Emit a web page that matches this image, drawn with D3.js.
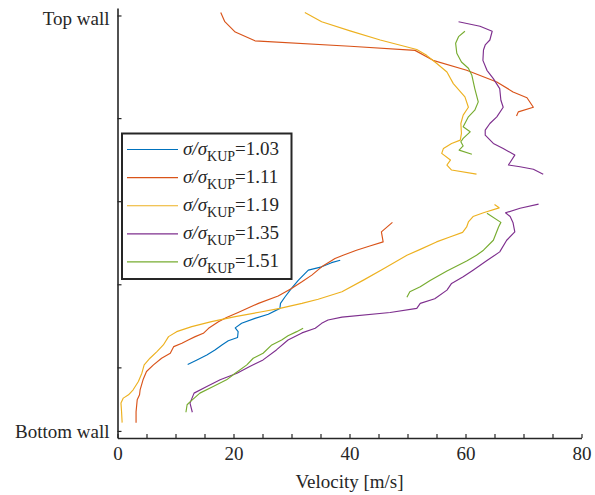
<!DOCTYPE html>
<html>
<head>
<meta charset="utf-8">
<script src="https://cdn.jsdelivr.net/npm/d3@7"></script>
<style>
  body { margin: 0; background: #fff; }
</style>
</head>
<body>
<div id="chart"></div>
<script>
// ratio labels and colours (MATLAB default order)
var ratios = ["1.03", "1.11", "1.19", "1.35", "1.51"];
var colors = ["#0072BD", "#D95319", "#EDB120", "#7E2F8E", "#77AC30"];

// y axis: 0 = bottom wall, 100 = top wall (percent of channel height)
var yTickValues = [0, 15.3, 35.3, 55.3, 75.3, 100];
var yTickLabels = ["Bottom wall", "", "", "", "", "Top wall"];
var xTickValues = [0, 20, 40, 60, 80];

// velocity [m/s] and position, null = gap in the profile
var vel103 = [12.1,13.7,15.4,16.8,18.0,19.1,20.7,20.8,20.3,21.4,23.7,26.0,28.0,28.1,28.9,30.0,31.2,32.9,35.2,36.9,38.4];
var pos103 = [16.0,17.1,18.3,19.5,20.7,21.7,22.5,23.9,24.8,25.9,27.1,28.1,29.5,30.7,32.3,34.3,36.3,38.7,39.5,40.5,41.1];

var vel111 = [3.2,3.2,3.4,3.8,3.9,4.4,5.0,6.2,7.6,9.1,9.7,11.1,12.2,13.4,14.8,15.7,17.4,18.8,20.8,24.3,27.7,30.0,31.8,33.5,35.2,37.5,38.9,41.2,43.5,45.8,45.5,47.4,
              null,
              17.8,18.5,20.3,23.7,40.1,51.3,54.4,60.2,65.4,68.2,70.6,71.7,69.1,68.8];
var pos111 = [2.0,4.6,7.5,8.7,9.9,12.3,14.3,15.9,17.5,18.7,20.3,21.1,21.9,22.7,23.5,24.7,26.3,27.3,28.5,30.7,32.5,34.3,35.9,37.5,39.5,41.5,42.3,43.5,44.5,45.5,47.9,50.2,
              null,
              100.7,98.5,96.0,93.9,92.6,91.6,89.2,86.8,84.0,81.6,80.2,77.9,76.8,75.8];

var vel119 = [0.8,0.7,0.6,1.0,1.9,2.7,3.6,4.2,4.6,5.6,6.8,7.9,8.8,10.2,12.8,16.2,20.3,24.9,28.0,31.8,34.6,38.7,42.4,45.8,49.9,52.2,55.0,57.3,59.5,60.2,60.5,61.3,63.1,65.8,65.0,
              null,
              32.3,35.2,40.1,45.3,51.6,53.3,55.0,56.8,57.9,59.9,60.5,59.6,59.2,59.3,59.1,57.6,56.2,55.9,57.4,56.8,57.6,61.9];
var pos119 = [2.0,4.6,6.7,7.9,8.7,9.9,11.9,13.9,15.9,17.5,19.1,20.7,22.7,23.9,25.1,26.3,27.5,28.7,29.5,30.7,31.7,33.5,36.3,39.0,42.3,43.7,45.5,46.7,47.8,49.1,50.3,51.6,52.5,53.7,54.5,
              null,
              100.7,98.5,96.3,94.1,91.8,90.4,88.5,86.4,83.6,80.4,77.9,76.0,74.0,71.6,70.0,69.2,68.0,66.8,65.2,64.0,62.8,61.8];

var vel135 = [12.9,12.5,13.2,15.4,17.7,20.6,22.8,25.1,27.4,29.4,31.8,34.1,35.2,36.3,38.7,47.0,51.6,52.2,54.7,56.8,57.6,59.6,61.3,63.7,65.9,67.1,68.5,68.2,67.7,66.9,69.4,72.6,
              null,
              58.8,62.5,64.6,64.2,63.4,63.1,63.0,63.7,64.8,65.9,66.1,66.5,65.4,64.2,63.4,63.4,64.8,66.5,68.5,67.4,69.4,71.7,73.4];
var pos135 = [4.5,6.7,9.1,10.7,12.3,13.9,15.5,17.1,19.5,21.9,23.6,24.7,25.9,26.7,27.4,28.5,29.5,30.7,31.8,33.9,35.5,37.1,38.7,41.0,43.1,45.9,47.9,50.1,51.6,52.5,53.6,54.6,
              null,
              98.5,97.4,96.2,94.1,92.9,91.7,89.2,86.8,84.8,82.4,79.6,77.9,75.6,74.0,72.4,71.2,69.2,68.0,66.4,64.0,63.6,63.0,61.8];

var vel151 = [11.8,12.0,12.5,14.2,16.5,18.8,20.3,22.3,23.4,25.1,26.6,28.3,29.4,30.9,32.0,
              null,
              49.9,50.4,52.2,53.9,56.8,60.2,61.9,63.1,64.8,65.7,66.1,63.7,
              null,
              59.9,58.8,58.3,58.5,59.3,60.5,61.1,61.6,62.2,61.6,60.5,59.6,60.8,59.6,59.2,59.6,58.9,61.1];
var pos151 = [4.5,6.3,7.0,9.1,10.7,12.3,13.9,15.9,17.5,18.7,20.7,21.9,22.9,23.9,24.7,
              null,
              32.2,33.5,34.7,36.2,38.5,40.9,42.3,43.5,45.9,49.1,50.2,52.4,
              null,
              96.2,94.9,93.3,90.9,88.8,87.3,85.6,82.4,79.2,77.2,75.6,73.2,72.0,70.4,69.6,68.6,67.6,66.6];

var velocities = [vel103, vel111, vel119, vel135, vel151];
var positions = [pos103, pos111, pos119, pos135, pos151];

var FONT = "'Liberation Serif', 'Times New Roman', serif";
var W = 595, H = 495;
var svg = d3.select("#chart").append("svg")
  .attr("width", W)
  .attr("height", H)
  .attr("font-family", FONT);

// scales
var x = d3.scaleLinear().domain([0, 80]).range([117.5, 581.5]);
var y = d3.scaleLinear().domain([-1.7, 101.8]).range([438, 8]);

// x axis
var xAxis = svg.append("g")
  .attr("transform", "translate(0,438)")
  .call(d3.axisBottom(x).tickValues(d3.range(0, 81, 5))
    .tickSizeInner(-4).tickSizeOuter(0).tickPadding(9)
    .tickFormat(function(d) { return xTickValues.indexOf(d) >= 0 ? d : ""; }));
xAxis.attr("font-family", FONT).attr("font-size", 19);
xAxis.select(".domain").attr("stroke", "#262626").attr("stroke-width", 1.6);
xAxis.selectAll(".tick line").attr("stroke", "#262626").attr("stroke-width", 1.2);
xAxis.selectAll("text").attr("fill", "#262626");

// y axis
var yAxis = svg.append("g")
  .attr("transform", "translate(117.5,0)")
  .call(d3.axisLeft(y).tickValues(yTickValues)
    .tickSizeInner(-4).tickSizeOuter(0).tickPadding(8)
    .tickFormat(function(d, i) { return yTickLabels[i]; }));
yAxis.attr("font-family", FONT).attr("font-size", 19);
yAxis.select(".domain").attr("stroke", "#262626").attr("stroke-width", 1.6);
yAxis.selectAll(".tick line").attr("stroke", "#262626").attr("stroke-width", 1.2);
yAxis.selectAll("text").attr("fill", "#262626");
// top label sits a little below its tick in the original
yAxis.selectAll(".tick text").filter(function(d) { return d === 100; })
  .attr("dy", "0.45em");

// x label
svg.append("text")
  .attr("x", x(40))
  .attr("y", 488)
  .attr("text-anchor", "middle")
  .attr("fill", "#262626")
  .attr("font-size", 19)
  .text("Velocity [m/s]");

// profiles
var line = d3.line()
  .defined(function(d) { return d[0] != null && d[1] != null; })
  .x(function(d) { return x(d[0]); })
  .y(function(d) { return y(d[1]); });

ratios.forEach(function(r, i) {
  var pts = velocities[i].map(function(v, j) { return [v, positions[i][j]]; });
  svg.append("path")
    .datum(pts)
    .attr("d", line)
    .attr("fill", "none")
    .attr("stroke", colors[i])
    .attr("stroke-width", 1.15)
    .attr("stroke-linejoin", "round");
});

// legend
var lg = svg.append("g");
lg.append("rect")
  .attr("x", 122).attr("y", 133.5)
  .attr("width", 169.5).attr("height", 145.5)
  .attr("fill", "#fff")
  .attr("stroke", "#262626")
  .attr("stroke-width", 2);

ratios.forEach(function(r, i) {
  var ly = 149.5 + i * 28.1;
  lg.append("line")
    .attr("x1", 127).attr("x2", 178)
    .attr("y1", ly).attr("y2", ly)
    .attr("stroke", colors[i])
    .attr("stroke-width", 1.15);
  var t = lg.append("text")
    .attr("x", 183)
    .attr("y", ly + 5)
    .attr("fill", "#262626")
    .attr("font-size", 19);
  t.append("tspan").attr("font-style", "italic").text("\u03c3/\u03c3");
  t.append("tspan").attr("dy", 6).attr("font-size", 14).text("KUP");
  t.append("tspan").attr("dy", -6).text("=" + r);
});
</script>
</body>
</html>
